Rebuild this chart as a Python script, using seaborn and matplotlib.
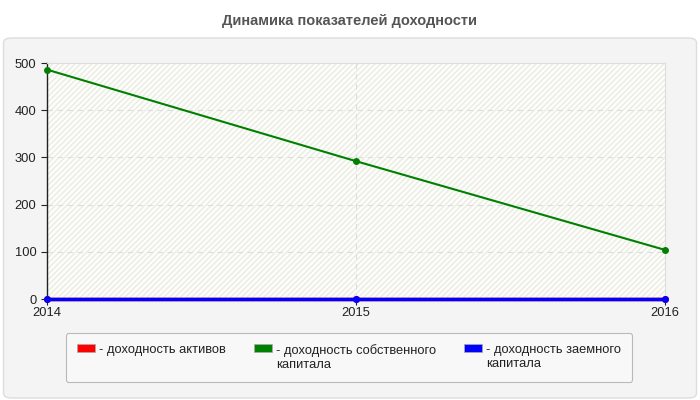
import matplotlib
matplotlib.use("Agg")
import matplotlib.pyplot as plt
import matplotlib.patches as mpatches
import pandas as pd
import seaborn as sns

years = [2014, 2015, 2016]
assets = [0, 0, 0]
equity = [486, 292, 104]
debt = [0, 0, 0]

names = ["- доходность активов", "- доходность собственного\nкапитала", "- доходность заемного\nкапитала"]
colors = ["#ff0000", "#008000", "#0000ff"]

df = pd.concat([
    pd.DataFrame({"year": years, "value": assets, "series": names[0]}),
    pd.DataFrame({"year": years, "value": equity, "series": names[1]}),
    pd.DataFrame({"year": years, "value": debt, "series": names[2]}),
])

sns.set_style("white")
plt.rcParams["font.family"] = ["Liberation Sans", "DejaVu Sans"]

fig = plt.figure(figsize=(7, 4), dpi=100)
fig.patch.set_facecolor("white")

# grey rounded panel behind the chart
panel = mpatches.FancyBboxPatch((0.005, 0.005), 0.99, 0.9,
                                boxstyle="round,pad=0,rounding_size=0.012",
                                transform=fig.transFigure, facecolor="#f4f4f4",
                                edgecolor="#dddddd", linewidth=1, zorder=-5)
fig.patches.append(panel)

fig.text(0.5, 0.948, "Динамика показателей доходности", ha="center", va="center",
         fontsize=10.5, fontweight="bold", color="#555555")

ax = fig.add_axes([0.067, 0.2525, 0.883, 0.59])
ax.set_facecolor("#fdfdf9")
ax.add_patch(mpatches.Rectangle((0, 0), 1, 1, transform=ax.transAxes, fill=False,
                                hatch="//////", edgecolor="#ebebe6", linewidth=0, zorder=0))

for name, c, lw in zip(names, colors, [2.5, 1.5, 2.5]):
    sns.lineplot(data=df[df["series"] == name], x="year", y="value", color=c,
                 linewidth=lw, marker="o", markersize=5, markeredgewidth=0,
                 ax=ax, legend=False, zorder=3, clip_on=False)

ax.set_xlim(2014, 2016)
ax.set_ylim(0, 500)
ax.set_xticks(years)
ax.set_xticklabels([str(y) for y in years])
ax.set_yticks(range(0, 501, 100))
ax.set_xlabel("")
ax.set_ylabel("")
ax.tick_params(axis="both", labelsize=9.3, colors="#222222", length=4, width=0.8,
               direction="out", left=True, bottom=True)
ax.tick_params(axis="x", pad=2)
for y in range(100, 500, 100):
    ax.axhline(y, color="#dddddd", linestyle=(0, (5, 4)), linewidth=0.8, zorder=1)
ax.axvline(2015, color="#dddddd", linestyle=(0, (5, 4)), linewidth=0.8, zorder=1)

for s in ["top", "right"]:
    ax.spines[s].set_color("#dddddd")
    ax.spines[s].set_linewidth(0.8)
for s in ["left", "bottom"]:
    ax.spines[s].set_color("#222222")
    ax.spines[s].set_linewidth(1)
ax.spines["bottom"].set_linewidth(1.5)

handles = [mpatches.Patch(facecolor=c, edgecolor="#aaaaaa", linewidth=0.5) for c in colors]
leg = fig.legend(handles, names, loc="upper left", bbox_to_anchor=(0.094, 0.167),
                 ncol=3, frameon=True, fontsize=9.3, handlelength=1.4, handleheight=0.55,
                 handletextpad=0.3, columnspacing=2.2, borderpad=0.85,
                 borderaxespad=0, fancybox=True)
# handle sits next to the first text line, columns aligned at the top
leg._legend_handle_box.align = "top"
for col in leg._legend_handle_box.get_children():
    for item in col.get_children():
        item.align = "top"
frame = leg.get_frame()
frame.set_facecolor("#fafafa")
frame.set_edgecolor("#aaaaaa")
frame.set_linewidth(0.8)
for t in leg.get_texts():
    t.set_color("#222222")

fig.savefig("out.png", dpi=100)
